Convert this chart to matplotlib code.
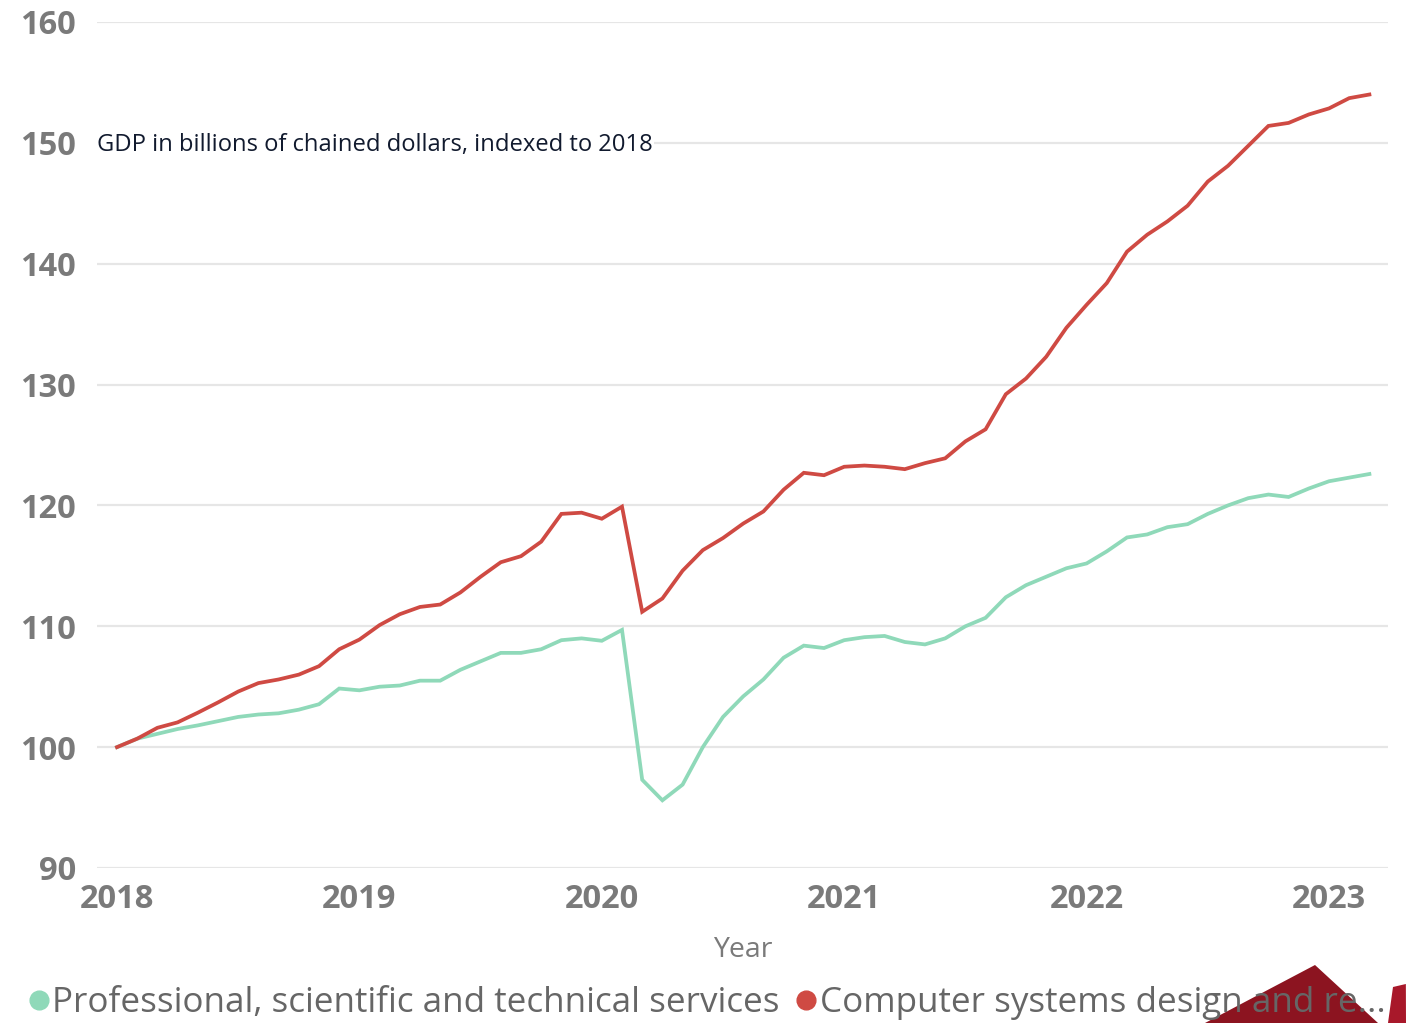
import numpy as np
import matplotlib
matplotlib.use("Agg")
import matplotlib.pyplot as plt
from matplotlib.lines import Line2D
from matplotlib.patches import Polygon

# ----------------------------------------------
# DATA (monthly, Jan 2018 - Mar 2023, index 2018 = 100)
# ----------------------------------------------
start_year = 2018
n_months = 63
months = start_year + np.arange(n_months) / 12.0

professional = [
    100.0, 100.7, 101.1, 101.5, 101.8, 102.15, 102.5, 102.7, 102.8, 103.1,
    103.55, 104.85, 104.7, 105.0, 105.1, 105.5, 105.5, 106.4, 107.1, 107.8,
    107.8, 108.1, 108.85, 109.0, 108.8, 109.7, 97.3, 95.6, 96.9, 100.0,
    102.5, 104.2, 105.6, 107.4, 108.4, 108.2, 108.85, 109.1, 109.2, 108.7,
    108.5, 109.0, 110.0, 110.7, 112.4, 113.4, 114.1, 114.8, 115.2, 116.2,
    117.35, 117.6, 118.2, 118.45, 119.3, 120.0, 120.6, 120.9, 120.7, 121.4,
    122.0, 122.3, 122.6,
]
computer = [
    100.0, 100.7, 101.6, 102.05, 102.85, 103.7, 104.6, 105.3, 105.6, 106.0,
    106.7, 108.1, 108.9, 110.1, 111.0, 111.6, 111.8, 112.8, 114.1, 115.3,
    115.8, 117.0, 119.3, 119.4, 118.9, 119.9, 111.2, 112.3, 114.6, 116.3,
    117.3, 118.5, 119.5, 121.3, 122.7, 122.5, 123.2, 123.3, 123.2, 123.0,
    123.5, 123.9, 125.3, 126.3, 129.2, 130.5, 132.3, 134.7, 136.6, 138.4,
    141.0, 142.4, 143.5, 144.8, 146.8, 148.1, 149.75, 151.4, 151.65, 152.35,
    152.85, 153.7, 154.0,
]

series_labels = ["Professional, scientific and technical services",
                 "Computer systems design and re..."]
series_colors = ["#8fd9b9", "#cf4a43"]
year_ticks = [2018, 2019, 2020, 2021, 2022, 2023]
y_ticks = [90, 100, 110, 120, 130, 140, 150, 160]
note = "GDP in billions of chained dollars, indexed to 2018"

# ----------------------------------------------
# FIGURE
# ----------------------------------------------
W, H = 1406, 1023
fig = plt.figure(figsize=(W / 100, H / 100), dpi=100)
ax = fig.add_axes([97 / W, 1 - 868 / H, (1388 - 97) / W, (868 - 22) / H])

ax.plot(months, professional, color=series_colors[0], lw=2.7, solid_joinstyle="miter", zorder=3)
ax.plot(months, computer, color=series_colors[1], lw=2.7, solid_joinstyle="miter", zorder=3)

ax.set_ylim(90, 160)
ax.set_xlim(2018 - 20 / 242.4, 2018 + (1388 - 117) / 242.4)
ax.set_yticks(y_ticks)
ax.set_xticks(year_ticks)
ax.set_xticklabels([str(y) for y in year_ticks])
ax.grid(axis="y", color="#e6e6e6", lw=1.6)
ax.set_axisbelow(True)
for s in ax.spines.values():
    s.set_visible(False)
ax.tick_params(length=0, labelsize=23.5, labelcolor="#7a7a7a")
ax.tick_params(axis="y", pad=15)
ax.tick_params(axis="x", pad=11)
for lab in ax.get_xticklabels() + ax.get_yticklabels():
    lab.set_fontweight("bold")
    lab.set_fontfamily("Open Sans")

ax.set_xlabel("Year", fontsize=20.5, color="#7a7a7a", family="Open Sans", labelpad=14)

ax.text(0.0, 149.8, note, transform=ax.get_yaxis_transform(), fontsize=17.1,
        family="Open Sans", color="#111a2e", va="center", ha="left",
        bbox=dict(facecolor="white", edgecolor="none", pad=1))

# decoration in the bottom-right corner
tri = Polygon([(1315 / W, 1 - 965 / H), (1205 / W, 0), (1378 / W, 0)],
              closed=True, transform=fig.transFigure, facecolor="#8c1420",
              edgecolor="none", zorder=0)
tri2 = Polygon([(1393 / W, 1 - 987 / H), (1 - 0.0001, 1 - 984 / H), (1, 0), (1388 / W, 0)],
               closed=True, transform=fig.transFigure, facecolor="#a8182a",
               edgecolor="none", zorder=0)
fig.add_artist(tri)
fig.add_artist(tri2)

# legend
handles = [Line2D([], [], marker="o", ls="none", markersize=13.5,
                  markerfacecolor=c, markeredgecolor=c) for c in series_colors]
leg = fig.legend(handles, series_labels, loc="center left",
                 bbox_to_anchor=(28 / W, 1 - 1003 / H), ncol=2, frameon=False,
                 handlelength=0.6, handletextpad=0.1, columnspacing=0.45,
                 borderpad=0, borderaxespad=0,
                 prop={"family": "Open Sans", "size": 25.2})
for t in leg.get_texts():
    t.set_color("#666666")
leg.set_zorder(5)

fig.savefig("out.png", dpi=100)
